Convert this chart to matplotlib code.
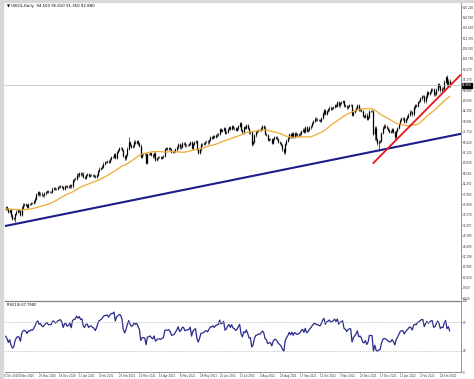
import numpy as np
import matplotlib.pyplot as plt
import matplotlib.transforms as mtransforms
from matplotlib.patches import Rectangle

# daily closes used only to warm up the moving average and RSI
warm_aug20 = [44.50, 45.43, 44.96, 44.80, 45.37, 45.46, 44.90, 44.35, 44.35, 45.13, 45.86, 45.64, 45.09, 45.05, 45.81]
warm_sep20 = [45.58, 44.43, 44.07, 42.66, 39.78, 41.78, 40.06, 39.83, 39.61, 40.53, 42.22, 43.30, 43.15, 41.44,
              41.72, 41.77, 41.94, 42.43, 41.03, 40.95]
warm_oct20 = [40.93, 39.27, 41.29, 42.65, 41.99, 43.34, 42.85, 41.72, 42.45, 43.32, 43.16, 42.93, 42.62, 43.16, 41.73]

# visible daily closes
oct20 = [42.46, 41.77, 40.46, 41.20, 39.12, 37.65, 37.94]
nov20 = [39.71, 40.71, 41.23, 40.93, 39.45, 42.40, 43.61, 43.80, 43.53, 42.78, 43.82, 43.75, 44.34, 44.20, 44.96,
         46.06, 47.86, 48.61, 47.80, 48.18, 47.59]
dec20 = [47.42, 48.25, 48.71, 49.25, 48.79, 48.84, 48.86, 50.25, 50.29, 49.97, 50.15, 50.76, 51.08, 51.22, 50.91,
         50.08, 51.20, 51.29, 50.86, 51.09, 51.80]
jan21 = [51.09, 53.60, 54.30, 54.38, 55.99, 55.66, 56.58, 56.06, 56.42, 55.10, 54.75, 55.90, 56.08, 55.41, 55.88,
         55.91, 55.65, 55.53, 55.10, 55.88]
feb21 = [57.46, 58.46, 58.84, 59.34, 60.56, 61.09, 61.14, 61.47, 61.14, 62.43, 63.30, 63.35, 64.34, 62.91, 65.24,
         66.11, 67.04, 66.88, 66.13]
mar21 = [63.69, 62.70, 64.07, 66.74, 69.36, 68.24, 67.52, 67.90, 69.63, 69.22, 69.88, 68.88, 68.00, 63.28, 64.53,
         64.62, 64.41, 60.79, 64.41, 64.57, 64.98, 64.14, 63.54]
apr21 = [64.86, 62.15, 62.74, 63.16, 63.20, 62.95, 63.28, 63.67, 66.58, 66.94, 66.77, 67.05, 66.57, 65.32, 65.40,
         65.65, 66.42, 67.22, 68.56, 67.25]
may21 = [67.56, 68.88, 68.96, 68.09, 68.28, 68.32, 68.55, 69.32, 67.05, 68.71, 69.46, 69.71, 66.66, 65.11, 66.40,
         68.46, 68.65, 68.87, 69.46, 69.63, 69.32]
jun21 = [70.25, 71.35, 71.31, 71.89, 71.49, 72.22, 72.52, 72.69, 74.81, 73.99, 74.39, 75.19, 73.08, 73.51, 74.90,
         75.56, 74.81, 76.18, 75.30, 75.13, 74.62, 75.13]
jul21 = [76.17, 77.16, 74.53, 73.43, 75.55, 75.16, 76.49, 75.25, 73.47, 73.59, 68.62, 69.35, 72.23, 73.79, 74.10,
         74.50, 74.48, 75.05, 76.05, 75.41]
aug21 = [72.89, 72.41, 70.38, 70.70, 70.70, 69.04, 70.63, 71.44, 71.31, 70.59, 69.51, 69.03, 68.23, 66.45, 65.18,
         68.75, 70.05, 71.05, 72.70, 71.66, 72.99, 71.63]
sep21 = [73.03, 72.61, 72.22, 72.60, 72.92, 73.92, 74.60, 73.60, 75.46, 73.92, 74.36, 75.46, 76.19, 77.25, 78.09,
         79.09, 78.72, 78.64, 78.52, 78.31]
oct21 = [79.28, 81.26, 82.56, 81.08, 82.39, 82.95, 83.65, 83.18, 83.42, 84.00, 84.86, 84.33, 85.82, 84.61, 85.53,
         85.99, 86.40, 84.58, 84.32, 83.72, 84.38]
nov21 = [84.71, 84.72, 80.54, 81.99, 82.74, 83.43, 84.78, 82.64, 82.87, 82.17, 80.28, 80.00, 80.75, 78.89, 79.70,
         82.31, 82.25, 82.22, 72.72, 75.44, 70.57]
dec21 = [68.87, 69.67, 69.88, 73.08, 75.44, 76.21, 75.82, 75.15, 74.39, 73.70, 73.88, 74.87, 73.52, 71.52, 73.98,
         75.29, 76.85, 78.60, 79.23, 79.32, 77.78]
jan22 = [78.98, 80.00, 80.80, 81.99, 81.75, 80.87, 83.72, 84.67, 84.47, 86.06, 86.48, 87.51, 88.44, 88.38, 86.27,
         88.20, 89.96, 89.34, 90.03, 91.21, 91.21]
feb22 = [89.16, 89.47, 91.11, 93.27, 92.69, 90.78, 91.55, 91.41, 94.44, 96.48, 93.28, 94.81, 92.88]

# notable wick extremes (bar index -> price)
wick_low = {5: 37.10, 7: 36.60, 105: 60.50, 184: 67.90, 208: 64.60, 276: 70.10, 278: 68.20, 279: 65.72, 291: 70.20}
wick_high = {92: 71.40, 176: 77.80, 252: 86.70, 329: 96.80}

# trend lines (bar index, price)
blue_x = [0, 340]
blue_y = [34.8, 72.8]
red_x = [275, 340]
red_y = [60.8, 97.1]

date_labels = ["22 Oct 2020", "4 Nov 2020", "26 Nov 2020", "18 Dec 2020", "11 Jan 2021", "4 Feb 2021",
               "26 Feb 2021", "22 Mar 2021", "14 Apr 2021", "6 May 2021", "28 May 2021", "21 Jun 2021",
               "13 Jul 2021", "4 Aug 2021", "26 Aug 2021", "17 Sep 2021", "12 Oct 2021", "3 Nov 2021",
               "25 Nov 2021", "17 Dec 2021", "11 Jan 2022", "2 Feb 2022", "24 Feb 2022"]
date_pos = [0] + [10 + 15 * k for k in range(22)]

price_ticks = [5.02, 9.31, 13.61, 17.90, 22.19, 26.49, 30.78, 35.07, 39.37, 43.66, 47.95, 52.25, 56.54, 60.83,
               65.12, 69.42, 73.71, 78.00, 82.29, 86.59, 90.88, 95.17, 99.47, 103.76, 108.05, 112.35, 116.64,
               120.93, 125.22]
rsi_ticks = [0, 30, 70, 100]

title_main = "UKOIL,Daily  94.500 95.610 91.350 92.880"
title_rsi = "RSI(14) 67.7982"

warm = np.array(warm_aug20 + warm_sep20 + warm_oct20)
vis = np.array(oct20 + nov20 + dec20 + jan21 + feb21 + mar21 + apr21 + may21 + jun21 + jul21 + aug21 +
               sep21 + oct21 + nov21 + dec21 + jan22 + feb22)
allc = np.concatenate([warm, vis])
nw = len(warm)
n = len(vis)
idx = np.arange(n)

opens = allc[nw - 1:-1]
period = 34
ma = np.convolve(allc, np.ones(period) / period, mode='full')[:len(allc)][nw:]

# Wilder RSI(14)
d = np.diff(allc)
up = np.where(d > 0, d, 0.0)
dn = np.where(d < 0, -d, 0.0)
au = up[:14].mean()
ad = dn[:14].mean()
rsi = [np.nan] * 15
for i in range(14, len(d)):
    au = (au * 13 + up[i]) / 14
    ad = (ad * 13 + dn[i]) / 14
    rsi.append(100 - 100 / (1 + au / ad))
rsi = np.array(rsi)[nw:]

W, H = 474, 379
fig = plt.figure(figsize=(W / 100, H / 100), dpi=100)
fig.patch.set_facecolor('white')
ax = fig.add_axes([5 / W, 1 - 299 / H, 456 / W, 297 / H])
ax2 = fig.add_axes([5 / W, 1 - 372 / H, 456 / W, 71 / H], sharex=ax)

fig.patches.append(Rectangle((0, 0), 3 / W, 1, transform=fig.transFigure, color='#d8d8d8', zorder=0))
fig.patches.append(Rectangle((0, 1 - 1.5 / H), 1, 1.5 / H, transform=fig.transFigure, color='#d8d8d8', zorder=0))

lo = np.minimum(opens, vis)
hi = np.maximum(opens, vis)
wlo = lo - 0.5
whi = hi + 0.5
for k, v in wick_low.items():
    wlo[k] = v
for k, v in wick_high.items():
    whi[k] = v
ax.vlines(idx, wlo, whi, color='#202020', lw=0.5)
ax.vlines(idx, lo, hi, color='black', lw=0.9)
ax.plot(idx, ma, color='#f0a830', lw=0.9)
ax.plot(blue_x, blue_y, color='#1c1c8c', lw=1.5)
ax.plot(red_x, red_y, color='#e8141c', lw=1.3)
ax.axhline(vis[-1], color='#b8b8b8', lw=0.5)

ax.set_xlim(-0.5, 340.5)
ax.set_ylim(4.61, 127.3)
ax.set_yticks(price_ticks)
ax.set_yticklabels(['%.3f' % v for v in price_ticks])
ax.yaxis.tick_right()
ax.tick_params(axis='y', labelsize=2.0, length=1.0, width=0.4, pad=0.3, colors='#303030')
ax.tick_params(axis='x', bottom=False, labelbottom=False)
for s in ['top', 'left', 'bottom']:
    ax.spines[s].set_visible(False)
ax.spines['right'].set_color('#808080')
ax.spines['right'].set_linewidth(0.6)
ax.text(0.004, 0.992, '\u25bc ' + title_main, transform=ax.transAxes, fontsize=2.8, va='top', ha='left')
ax.annotate('%.3f' % vis[-1], xy=(1.0, vis[-1]), xycoords=('axes fraction', 'data'), xytext=(0.8, 0),
            textcoords='offset points', fontsize=2.0, color='white', va='center', ha='left',
            bbox=dict(boxstyle='square,pad=0.15', fc='black', ec='black'))

ax2.plot(idx, rsi, color='#2a2a8a', lw=0.9)
for lv in [70, 30]:
    ax2.axhline(lv, color='#c0c0c0', lw=0.5, ls=(0, (2, 1)))
ax2.set_ylim(0, 100)
ax2.set_yticks(rsi_ticks)
ax2.set_yticklabels([str(v) for v in rsi_ticks])
ax2.yaxis.tick_right()
ax2.tick_params(axis='y', labelsize=2.0, length=1.0, width=0.4, pad=0.3, colors='#303030')
ax2.set_xticks(date_pos)
ax2.set_xticklabels(date_labels)
ax2.tick_params(axis='x', labelsize=1.9, length=1.0, width=0.4, pad=0.4, colors='#303030')
for lab in ax2.get_xticklabels():
    lab.set_ha('left')
# nudge the first date label left so it clears the next one
first = ax2.get_xticklabels()[0]
first.set_transform(first.get_transform() + mtransforms.ScaledTranslation(-3 / 100, 0, fig.dpi_scale_trans))
ax2.spines['left'].set_visible(False)
for s in ['top', 'right', 'bottom']:
    ax2.spines[s].set_color('#808080')
    ax2.spines[s].set_linewidth(0.6)
ax2.spines['top'].set_linewidth(0.9)
ax2.text(0.004, 0.97, title_rsi, transform=ax2.transAxes, fontsize=2.6, va='top', ha='left')

fig.savefig('out.png', dpi=100)
